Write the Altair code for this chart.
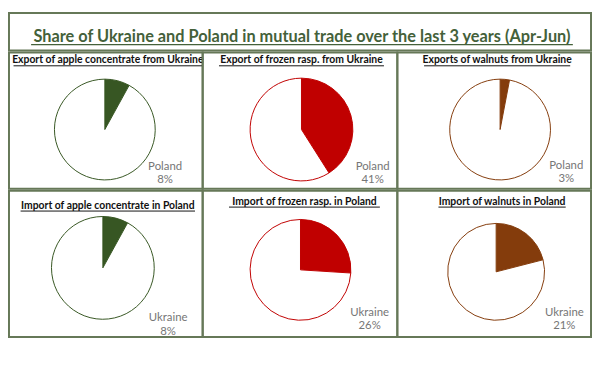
import altair as alt
import pandas as pd

# ---------------- data ----------------
main_title = "Share of Ukraine and Poland in mutual trade over the last 3 years (Apr-Jun)"
panel_titles = [
    "Export of apple concentrate from Ukraine",
    "Export of frozen rasp. from Ukraine",
    "Exports of walnuts from Ukraine",
    "Import of apple concentrate in Poland",
    "Import of frozen rasp. in Poland",
    "Import of walnuts in Poland",
]
partners = ["Poland", "Poland", "Poland", "Ukraine", "Ukraine", "Ukraine"]
shares = [8, 41, 3, 8, 26, 21]

# ---------------- style / layout ----------------
colors = ["#375623", "#c00000", "#843c0c", "#375623", "#c00000", "#843c0c"]
border_color = "#667858"
title_color = "#44613a"
font = "Lato"
col_widths = [196, 197, 196]
row_heights = [138, 148]
title_h = 38
pie_cx = [97, 100, 104, 95, 99, 100]
pie_cy = [78, 78, 78, 78, 80, 82]
pie_r = [51, 52, 51, 52, 51, 49]
title_x = [100, 100, 101, 100, 103, 106]
title_y = [8, 8, 8, 15, 11, 11]
label_x = [158, 172, 171, 161, 169, 169]
label_y = [115.5, 115.5, 114.5, 129, 123.5, 123.5]
panel_char_w = 4.77
main_char_w = 7.31


def panel(i):
    df = pd.DataFrame({
        "cat": [partners[i], "Other"],
        "value": [shares[i], 100 - shares[i]],
        "idx": [0, 1],
    })
    arc = alt.Chart(df).mark_arc(
        outerRadius=pie_r[i], stroke=colors[i], strokeWidth=1
    ).encode(
        theta=alt.Theta("value:Q", stack=True),
        order=alt.Order("idx:Q"),
        fill=alt.condition(alt.datum.idx == 0, alt.value(colors[i]), alt.value("white")),
        x=alt.value(pie_cx[i]),
        y=alt.value(pie_cy[i]),
    )
    lab_df = pd.DataFrame({"label": [f"{partners[i]}\n{shares[i]}%"]})
    label = alt.Chart(lab_df).mark_text(
        lineBreak="\n", fontSize=11.5, font=font, color="#767676",
        lineHeight=13.5, align="center", baseline="middle"
    ).encode(
        text="label:N", x=alt.value(label_x[i]), y=alt.value(label_y[i])
    )
    t_df = pd.DataFrame({"t": [panel_titles[i]]})
    ttl = alt.Chart(t_df).mark_text(
        fontWeight="bold", font=font, fontSize=10.5, color="#111111",
        align="center", baseline="middle"
    ).encode(text="t:N", x=alt.value(title_x[i]), y=alt.value(title_y[i]))
    w = len(panel_titles[i]) * panel_char_w
    ul = alt.Chart(t_df).mark_rule(color="#111111", strokeWidth=1).encode(
        x=alt.value(title_x[i] - w / 2),
        x2=alt.value(title_x[i] + w / 2),
        y=alt.value(title_y[i] + 5.5),
    )
    return alt.layer(arc, label, ttl, ul).properties(
        width=col_widths[i % 3], height=row_heights[i // 3]
    )


total_w = sum(col_widths)
mt_df = pd.DataFrame({"t": [main_title]})
mt = alt.Chart(mt_df).mark_text(
    fontWeight="bold", font=font, fontSize=16.5, color=title_color,
    align="center", baseline="middle"
).encode(text="t:N", x=alt.value(total_w / 2 + 2), y=alt.value(24))
mw = len(main_title) * main_char_w
mul = alt.Chart(mt_df).mark_rule(color=title_color, strokeWidth=1.3).encode(
    x=alt.value(total_w / 2 + 2 - mw / 2),
    x2=alt.value(total_w / 2 + 2 + mw / 2),
    y=alt.value(32),
)
title_chart = alt.layer(mt, mul).properties(width=total_w, height=title_h)

panels = [panel(i) for i in range(6)]
row1 = alt.hconcat(*panels[:3], spacing=0, bounds="flush")
row2 = alt.hconcat(*panels[3:], spacing=0, bounds="flush")

chart = alt.vconcat(title_chart, row1, row2, spacing=0).properties(
    padding={"left": 0, "top": 2, "right": 0, "bottom": 0},
    background="white",
).configure_view(stroke=border_color, strokeWidth=2)

chart.save("out.html", embed_options={"renderer": "svg", "actions": False})
